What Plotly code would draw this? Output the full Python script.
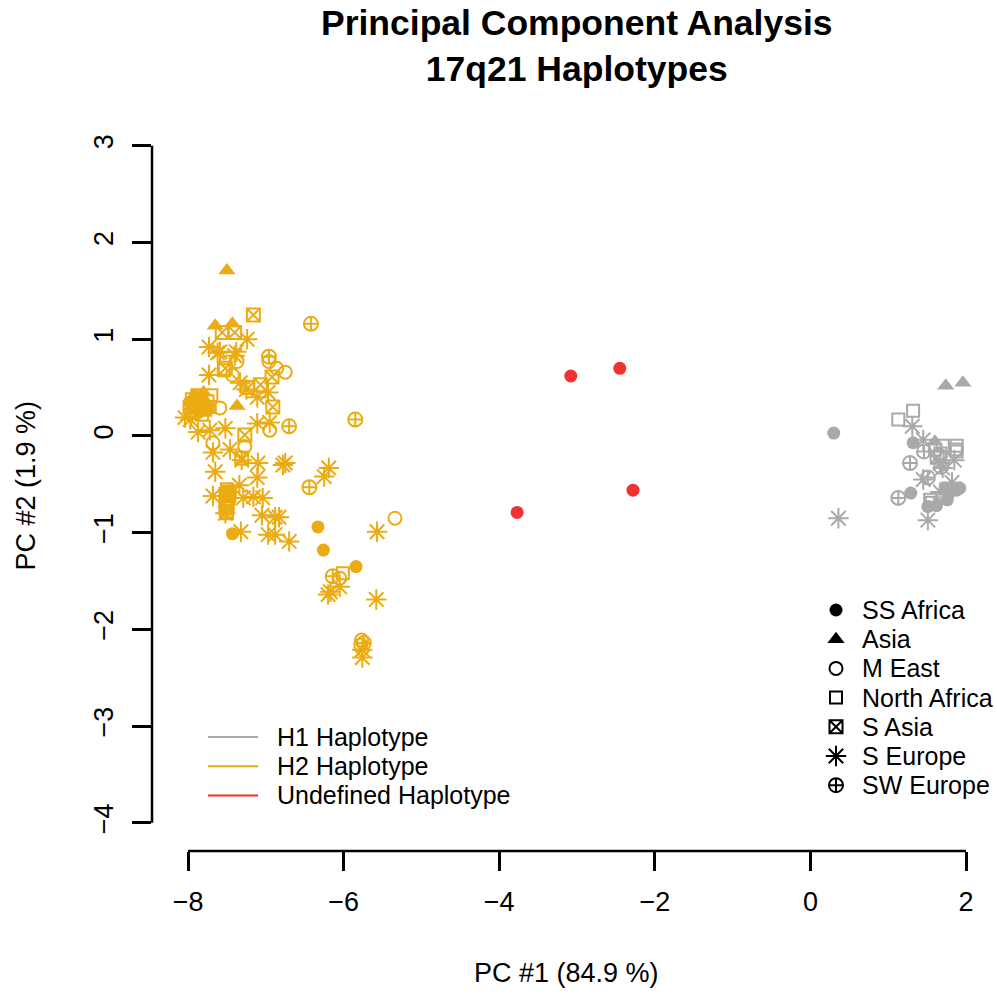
import plotly.graph_objects as go

# ---------------- data (PC1, PC2) ----------------
populations = ["SS Africa", "Asia", "M East", "North Africa", "S Asia", "S Europe", "SW Europe"]
pop_symbols = ["circle", "triangle-up", "circle-open", "square-open", "square-x-open", "asterisk-open", "circle-cross-open"]
pop_sizes = [13, 15, 13, 12, 13, 17, 14]

haplotypes = ["H1 Haplotype", "H2 Haplotype", "Undefined Haplotype"]
hap_colors = ["#A9A9A9", "#EBAB12", "#F03232"]

# H2 haplotype (orange)
h2_ss_africa = [(-6.33, -0.94), (-6.26, -1.18), (-5.84, -1.35), (-7.43, -1.01), (-7.87, 0.32), (-7.80, 0.35), (-7.93, 0.30),
                (-7.95, 0.28), (-7.90, 0.38), (-7.82, 0.40), (-7.75, 0.28), (-7.85, 0.25), (-7.98, 0.35), (-7.50, -0.62)]
h2_asia = [(-7.50, 1.71), (-7.65, 1.14), (-7.43, 1.16), (-7.37, 0.31), (-7.95, 0.35), (-7.85, 0.38), (-7.75, 0.33),
           (-7.92, 0.42), (-7.80, 0.45)]
h2_m_east = [(-6.75, 0.66), (-6.86, 0.70), (-6.96, 0.77), (-6.95, 0.06), (-7.27, -0.11), (-7.59, 0.29), (-5.34, -0.85),
             (-6.05, -1.47), (-5.77, -2.11), (-5.78, -2.16), (-7.37, 0.77), (-7.43, 0.63), (-7.68, -0.07)]
h2_north_africa = [(-7.95, 0.38), (-7.90, 0.33), (-7.85, 0.40), (-7.80, 0.30), (-7.75, 0.36), (-7.92, 0.25), (-7.82, 0.22),
                   (-7.70, 0.42), (-7.88, 0.42), (-7.78, 0.27), (-7.98, 0.30), (-7.72, 0.30), (-7.50, -0.55), (-7.52, -0.60),
                   (-7.48, -0.65), (-7.50, -0.70), (-7.52, -0.75), (-7.47, -0.62), (-7.50, -0.80), (-6.01, -1.42), (-7.54, 0.68),
                   (-7.49, -0.58), (-7.51, -0.68), (-7.49, -0.72), (-7.51, -0.78)]
h2_s_asia = [(-7.16, 1.25), (-7.56, 1.07), (-7.40, 1.07), (-7.52, 0.70), (-7.23, 0.50), (-7.07, 0.53), (-6.92, 0.61),
             (-6.91, 0.30), (-7.27, 0.01), (-7.31, -0.23), (-7.47, -0.58)]
h2_s_europe = [(-7.73, 0.92), (-7.24, 1.00), (-7.59, 0.87), (-7.38, 0.87), (-7.73, 0.63), (-7.33, 0.55), (-7.11, 0.40),
               (-6.97, 0.45), (-7.11, 0.13), (-6.95, 0.14), (-7.87, 0.04), (-7.72, 0.06), (-7.52, 0.08), (-7.68, -0.17),
               (-7.46, -0.14), (-7.31, -0.25), (-7.10, -0.28), (-6.78, -0.30), (-6.75, -0.28), (-7.65, -0.37), (-7.11, -0.43),
               (-7.34, -0.51), (-6.19, -0.33), (-6.25, -0.42), (-7.68, -0.62), (-7.29, -0.64), (-7.16, -0.63), (-7.04, -0.64),
               (-7.52, -0.80), (-7.05, -0.82), (-6.88, -0.84), (-6.83, -0.84), (-7.32, -0.99), (-6.97, -1.02), (-6.88, -1.02),
               (-6.70, -1.09), (-5.57, -0.99), (-6.17, -1.61), (-6.05, -1.56), (-6.20, -1.64), (-5.58, -1.69), (-5.76, -2.21),
               (-5.76, -2.29), (-8.04, 0.19), (-7.97, 0.17), (-7.62, 0.86), (-7.40, 0.83), (-7.25, 0.48)]
h2_sw_europe = [(-6.42, 1.16), (-6.96, 0.82), (-6.70, 0.10), (-5.85, 0.17), (-6.44, -0.53), (-6.14, -1.45), (-5.74, -2.14)]

# H1 haplotype (grey)
h1_ss_africa = [(0.30, 0.03), (1.32, -0.07), (1.92, -0.54), (1.73, -0.54), (1.76, -0.66), (1.29, -0.59), (1.51, -0.73),
                (1.88, -0.56), (1.62, -0.72), (1.78, -0.60)]
h1_asia = [(1.74, 0.52), (1.96, 0.55), (1.60, -0.06)]
h1_m_east = [(1.66, -0.20)]
h1_north_africa = [(1.13, 0.17), (1.32, 0.26), (1.70, -0.10), (1.88, -0.10), (1.87, -0.14), (1.67, -0.18), (1.56, -0.69),
                   (1.54, -0.66), (1.60, -0.14), (1.88, -0.16)]
h1_s_asia = [(1.63, -0.22)]
h1_s_europe = [(1.31, 0.10), (1.45, -0.04), (1.67, -0.28), (1.85, -0.25), (1.45, -0.45), (1.82, -0.48), (1.67, -0.58),
               (1.51, -0.87), (0.36, -0.85), (1.70, -0.33)]
h1_sw_europe = [(1.46, -0.16), (1.28, -0.28), (1.68, -0.32), (1.51, -0.43), (1.13, -0.64)]

# Undefined haplotype (red)
und_ss_africa = [(-2.45, 0.70), (-3.08, 0.62), (-2.28, -0.56), (-3.77, -0.79)]

x_ticks = [-8, -6, -4, -2, 0, 2]
y_ticks = [-4, -3, -2, -1, 0, 1, 2, 3]

# ---------------- figure ----------------
FONT = "Liberation Sans, Arial, Helvetica, sans-serif"
L, R, T, B = 152, 17, 120, 145
W, H = 997, 996
pw = W - L - R
ph = H - T - B

fig = go.Figure()

groups = [
    (1, [h2_ss_africa, h2_asia, h2_m_east, h2_north_africa, h2_s_asia, h2_s_europe, h2_sw_europe]),
    (0, [h1_ss_africa, h1_asia, h1_m_east, h1_north_africa, h1_s_asia, h1_s_europe, h1_sw_europe]),
    (2, [und_ss_africa, [], [], [], [], [], []]),
]

for hi, pops in groups:
    for pi, pts in enumerate(pops):
        if not pts:
            continue
        xs = [p[0] for p in pts]
        ys = [p[1] for p in pts]
        sym = pop_symbols[pi]
        is_open = sym.endswith("-open")
        fig.add_trace(go.Scatter(
            x=xs, y=ys, mode="markers", showlegend=False, hoverinfo="skip",
            marker=dict(symbol=sym, size=pop_sizes[pi], color=hap_colors[hi],
                        line=dict(width=2 if is_open else 0, color=hap_colors[hi])),
        ))

# ---- R-style legends drawn on a hidden overlay axis measured in pixels ----
LEG1_LINE_X0, LEG1_LINE_X1, LEG1_TEXT_X, LEG1_Y0 = 208, 258, 275, 737
LEG2_SYM_X, LEG2_TEXT_X, LEG2_Y0 = 836, 860, 610
ROW = 29.2
LEG_FONT = 25

for hi, name in enumerate(haplotypes):
    yy = LEG1_Y0 + ROW * hi
    fig.add_trace(go.Scatter(x=[LEG1_LINE_X0, LEG1_LINE_X1], y=[yy, yy], mode="lines", xaxis="x2", yaxis="y2",
                             showlegend=False, hoverinfo="skip", cliponaxis=False,
                             line=dict(color=hap_colors[hi], width=2)))
    fig.add_annotation(text=name, xref="x2", yref="y2", x=LEG1_TEXT_X, y=yy, xanchor="left", yanchor="middle",
                       showarrow=False, font=dict(size=LEG_FONT, family=FONT, color="black"))

for pi, name in enumerate(populations):
    yy = LEG2_Y0 + ROW * pi
    sym = pop_symbols[pi]
    fig.add_trace(go.Scatter(x=[LEG2_SYM_X], y=[yy], mode="markers", xaxis="x2", yaxis="y2",
                             showlegend=False, hoverinfo="skip", cliponaxis=False,
                             marker=dict(symbol=sym, size=pop_sizes[pi], color="black",
                                         line=dict(width=2 if sym.endswith("-open") else 0, color="black"))))
    fig.add_annotation(text=name, xref="x2", yref="y2", x=LEG2_TEXT_X, y=yy, xanchor="left", yanchor="middle",
                       showarrow=False, font=dict(size=LEG_FONT, family=FONT, color="black"))

fig.update_layout(
    width=W, height=H,
    margin=dict(l=L, r=R, t=T, b=B, pad=0),
    paper_bgcolor="white", plot_bgcolor="white",
    font=dict(family=FONT, color="black", size=27),
    showlegend=False,
    xaxis2=dict(overlaying="x", range=[L, W - R], visible=False, fixedrange=True),
    yaxis2=dict(overlaying="y", range=[H - B, T], visible=False, fixedrange=True),
)

fig.update_xaxes(selector=dict(anchor="y"))
fig.update_layout(
    xaxis=dict(range=[-8.463, 2.18], tickvals=x_ticks, ticks="outside", ticklen=19, tickwidth=2.5,
               tickcolor="black", showline=False, showgrid=False, zeroline=False,
               tickfont=dict(size=27, family=FONT), ticklabelstandoff=8),
    yaxis=dict(range=[-4.291, 3.267], tickvals=y_ticks, ticks="outside", ticklen=19, tickwidth=2.5,
               tickcolor="black", showline=False, showgrid=False, zeroline=False, tickangle=-90,
               tickfont=dict(size=27, family=FONT), ticklabelstandoff=8),
)

# axis lines spanning first to last tick (R style)
fig.add_shape(type="line", xref="x", yref="paper", x0=x_ticks[0], x1=x_ticks[-1], y0=0, y1=0,
              line=dict(color="black", width=2.5))
fig.add_shape(type="line", xref="paper", yref="y", x0=0, x1=0, y0=y_ticks[0], y1=y_ticks[-1],
              line=dict(color="black", width=2.5))

fig.add_annotation(text="PC #1 (84.9 %)", xref="paper", yref="paper", x=0.5, y=-(973 - (H - B)) / ph,
                   showarrow=False, font=dict(size=27, family=FONT), xanchor="center", yanchor="middle")
fig.add_annotation(text="PC #2 (1.9 %)", xref="paper", yref="paper", x=-(L - 25) / pw, y=0.5, textangle=-90,
                   showarrow=False, font=dict(size=27, family=FONT), xanchor="center", yanchor="middle")
fig.add_annotation(text="<b>Principal Component Analysis</b><br><b>17q21 Haplotypes</b>", xref="paper", yref="paper",
                   x=(577 - L) / pw, y=1 + (T - 46) / ph, showarrow=False, font=dict(size=35.5, family=FONT),
                   xanchor="center", yanchor="middle")

fig.write_html("out.html")
